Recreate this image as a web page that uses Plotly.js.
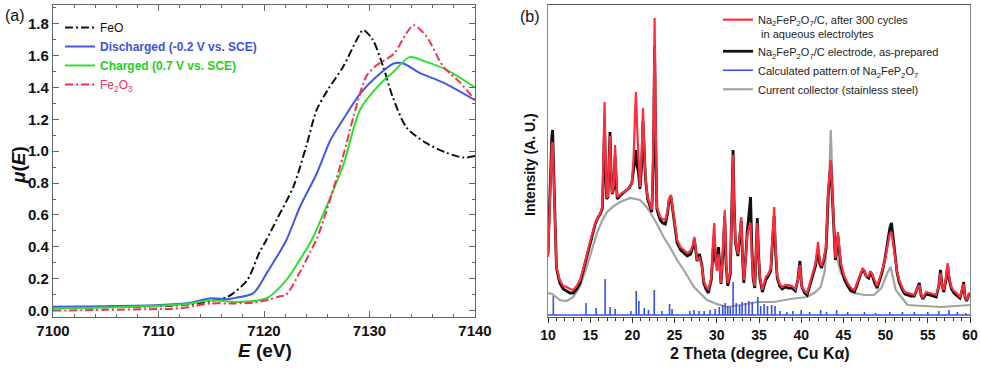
<!DOCTYPE html>
<html><head><meta charset="utf-8">
<script src="https://cdn.plot.ly/plotly-3.0.1.min.js"></script>
<style>html,body{margin:0;padding:0;background:#fff}#chart{width:981px;height:368px}</style>
</head><body><div id="chart"></div>
<script>
// ---------- Panel (a): Fe K-edge XANES ----------
const feoE = [7100,7104,7108,7111,7113,7115,7116.5,7117.1,7118.4,7119.6,7120.2,7121.2,7122.8,7124.0,7125.0,7126.0,7127.5,7128.8,7129.4,7130.3,7131.3,7132.2,7133.5,7135.4,7137.3,7138.9,7140];
const feoMu = [0.02,0.02,0.025,0.03,0.04,0.06,0.085,0.11,0.19,0.37,0.44,0.57,0.78,1.03,1.26,1.38,1.53,1.70,1.76,1.70,1.53,1.34,1.15,1.05,0.99,0.96,0.97];

const disE = [7100,7105,7110,7113,7115,7116.5,7117.3,7119.0,7120.3,7122.1,7123.4,7125.0,7126.3,7127.5,7129.1,7130.7,7132.3,7133.2,7134.8,7137.0,7140];
const disMu = [0.025,0.028,0.035,0.05,0.078,0.072,0.08,0.11,0.24,0.44,0.65,0.86,1.07,1.20,1.36,1.47,1.55,1.55,1.49,1.43,1.32];

const chgE = [7100,7105,7110,7113,7115,7117,7119,7120.3,7122.1,7123.4,7124.5,7125.9,7127.5,7129.1,7130.7,7132.3,7133.8,7135.4,7137.3,7140];
const chgMu = [0.015,0.02,0.03,0.045,0.065,0.055,0.06,0.08,0.19,0.32,0.44,0.65,0.91,1.26,1.40,1.50,1.59,1.56,1.51,1.40];

const fe2o3E = [7100,7105,7110,7112,7113.5,7115,7117,7119,7120.5,7121.5,7122.1,7123.4,7124.4,7125.0,7125.9,7127.5,7128.5,7129.7,7130.7,7132.3,7133.5,7134.2,7135.4,7137.0,7138.6,7140];
const fe2o3Mu = [0.0,0.005,0.01,0.015,0.03,0.045,0.045,0.05,0.07,0.09,0.10,0.24,0.37,0.45,0.62,0.97,1.22,1.47,1.54,1.61,1.74,1.79,1.72,1.53,1.43,1.32];

const xanesNames = [
  'FeO',
  '<span style="color:#3f52e3"><b>Discharged (-0.2 V vs. SCE)</b></span>',
  '<span style="color:#22d022"><b>Charged (0.7 V vs. SCE)</b></span>',
  '<span style="color:#f5305a">Fe<sub>2</sub>O<sub>3</sub></span>'
];

// ---------- Panel (b): XRD ----------
const twoTheta = [10.0,10.25,10.45,10.55,10.7,10.85,11.0,11.4,11.8,12.2,12.6,13.0,13.4,13.8,14.2,14.6,15.0,15.3,15.6,15.9,16.2,16.45,16.6,16.7,16.8,16.95,17.1,17.25,17.35,17.45,17.6,17.8,17.95,18.05,18.2,18.5,18.75,19.05,19.35,19.6,19.94,20.15,20.3,20.42,20.55,20.7,20.9,21.1,21.25,21.4,21.55,21.8,22.05,22.3,22.5,22.63,22.75,22.9,23.1,23.3,23.6,23.9,24.15,24.35,24.57,24.75,24.9,25.1,25.3,25.7,26.1,26.5,26.9,27.2,27.34,27.5,27.66,27.95,28.25,28.45,28.7,29.0,29.36,29.55,29.7,29.85,30.0,30.2,30.35,30.5,30.75,30.94,31.1,31.3,31.6,31.8,31.93,32.05,32.2,32.5,32.7,32.9,33.05,33.2,33.45,33.6,33.85,34.0,34.15,34.3,34.5,34.65,34.8,34.95,35.1,35.4,35.8,36.1,36.4,36.6,36.8,36.95,37.16,37.45,37.75,38.1,38.5,38.9,39.3,39.6,39.85,40.05,40.4,40.7,41.0,41.3,41.7,42.0,42.2,42.4,42.7,42.95,43.2,43.5,43.7,43.85,44.05,44.2,44.36,44.55,44.7,45.1,45.5,45.9,46.3,46.7,47.05,47.3,47.45,47.7,48.0,48.2,48.4,48.7,49.0,49.3,49.6,49.9,50.2,50.5,50.7,50.9,51.1,51.35,51.6,52.0,52.3,52.6,53.0,53.4,53.7,54.0,54.2,54.4,54.8,55.2,55.6,56.0,56.3,56.5,56.7,56.9,57.15,57.35,57.55,57.8,58.1,58.4,58.8,59.05,59.25,59.4,59.6,59.9,60.0];

const cycled = [59,125,170,174,120,90,49,36,30,29,27,26,30,36,48,63,75,84,93,98,103,110,190,214,170,118,120,160,180,150,123,130,171,150,119,121,123,124,126,128,133,160,200,224,190,156,129,160,208,170,139,119,112,106,180,298,200,109,104,99,97,96,105,118,121,110,103,88,76,69,66,63,65,72,79,68,56,58,49,35,30,26,39,75,93,60,45,62,45,33,70,106,55,33,45,110,161,110,76,62,80,99,60,36,60,80,90,93,60,40,30,60,93,60,40,26,39,42,48,80,109,70,40,32,29,31,31,30,27,35,51,30,25,23,32,43,53,74,55,50,58,70,125,156,120,95,58,70,84,65,53,40,33,28,26,35,43,48,46,40,40,45,42,35,30,38,46,55,69,82,84,72,58,45,36,28,24,23,22,21,27,31,22,18,24,23,22,21,30,43,30,26,38,53,38,29,25,23,19,26,32,20,16,23,22];

const asPrepared = [62,130,180,186,125,92,48,33,27,25,23,23,27,33,46,60,73,82,92,98,102,108,170,190,150,117,119,165,184,150,122,128,160,140,117,120,122,124,126,128,133,150,160,166,150,145,127,150,195,165,137,117,111,104,160,270,180,107,101,96,93,92,102,116,119,108,101,86,73,66,63,60,62,70,77,66,55,62,50,33,27,23,37,65,80,55,50,69,48,32,65,100,52,30,42,115,166,115,74,60,78,95,58,33,62,84,105,119,70,38,28,65,98,62,38,24,36,40,45,75,100,66,38,30,27,29,28,28,25,36,55,30,23,21,30,40,50,66,52,48,56,68,122,152,118,92,56,68,80,62,50,37,30,25,24,33,42,46,45,40,38,44,41,33,28,36,44,56,72,88,93,78,60,44,34,26,22,21,20,20,26,33,21,17,22,21,20,19,30,46,30,24,36,50,36,27,23,21,18,25,34,19,15,22,21];

const steelTheta = [10.0,10.5,11.4,12.2,13.0,13.8,14.6,15.2,15.8,16.4,17.0,17.8,18.55,19.74,20.9,21.5,22.1,22.9,23.7,24.5,25.3,26.3,27.3,28.0,28.85,30.0,31.2,32.8,34.8,36.76,38.7,40.7,41.7,42.3,42.8,43.17,43.5,43.9,44.3,44.7,45.5,46.3,47.5,48.6,49.5,50.2,50.6,51.2,52.6,54.5,56.6,58.3,60.0];
const steelI = [23,22,16,15,19,30,49,66,83,95,104,110,114,118,116,111,104,92,79,68,56,43,29,23,16,12,9,11,14,14,17,19,24,29,45,96,186,89,56,43,32,23,21,21,28,43,49,26,11,10,9,10,11];

const stickPos = [10.63,14.5,15.7,16.77,17.36,17.96,19.82,20.45,20.77,21.4,21.9,22.59,23.5,24.4,24.7,26.8,27.3,27.9,28.5,29.2,29.8,30.3,30.7,31.0,31.3,31.6,31.93,32.3,32.7,33.0,33.4,33.8,34.2,34.86,35.2,35.6,36.0,36.5,36.9,37.5,38.3,39.0,40.0,41.0,42.3,43.0,44.2,45.5,47.5,48.8,50.5,52.0,53.4,55.0,56.3,57.5,58.5,59.5];
const stickI = [19,12,7,36,8,6,4,24,14,7,5,25,4,11,6,4,5,4,4,5,6,8,10,12,9,8,33,12,10,13,12,14,13,18,9,11,9,10,9,4,3,4,5,3,5,3,5,3,3,2,3,3,3,3,4,5,3,2];
const stickBase = 1;
const thetaRange = [10, 60];

const xrdNames = [
  'Na<sub>2</sub>FeP<sub>2</sub>O<sub>7</sub>/C, after 300 cycles<br> in aqueous electrolytes',
  'Na<sub>2</sub>FeP<sub>2</sub>O<sub>7</sub>/C electrode, as-prepared',
  'Calculated pattern of Na<sub>2</sub>FeP<sub>2</sub>O<sub>7</sub>',
  'Current collector (stainless steel)'
];

// ---------- build ----------
const FONT = 'Liberation Sans, Arial, sans-serif';
const W = 981, H = 368, ML = 53, MR = 11, MT = 5, MB = 51;
const pw = W - ML - MR, ph = H - MT - MB;
const px = v => (v - ML) / pw;
const py = v => (H - MB - v) / ph;

const dashdot = '8px,3px,2px,3px';
const sticksX = [thetaRange[0], thetaRange[1], null];
const sticksY = [stickBase, stickBase, null];
stickPos.forEach((p, i) => { sticksX.push(p, p, null); sticksY.push(stickBase, stickBase + stickI[i], null); });

const traces = [
  {x: feoE, y: feoMu, name: xanesNames[0], mode: 'lines', line: {color: '#111', width: 2, dash: dashdot, shape: 'spline', smoothing: 0.8}, xaxis: 'x', yaxis: 'y', legend: 'legend'},
  {x: disE, y: disMu, name: xanesNames[1], mode: 'lines', line: {color: '#4457e6', width: 2, shape: 'spline', smoothing: 0.8}, xaxis: 'x', yaxis: 'y', legend: 'legend'},
  {x: chgE, y: chgMu, name: xanesNames[2], mode: 'lines', line: {color: '#2ee02e', width: 2, shape: 'spline', smoothing: 0.8}, xaxis: 'x', yaxis: 'y', legend: 'legend'},
  {x: fe2o3E, y: fe2o3Mu, name: xanesNames[3], mode: 'lines', line: {color: '#f5304e', width: 2, dash: dashdot, shape: 'spline', smoothing: 0.8}, xaxis: 'x', yaxis: 'y', legend: 'legend'},

  {x: steelTheta, y: steelI, name: xrdNames[3], mode: 'lines', line: {color: '#a3a3a3', width: 2.2}, xaxis: 'x2', yaxis: 'y2', legend: 'legend2'},
  {x: sticksX, y: sticksY, name: xrdNames[2], mode: 'lines', line: {color: '#3650f0', width: 1.6}, xaxis: 'x2', yaxis: 'y2', legend: 'legend2', connectgaps: false},
  {x: twoTheta, y: asPrepared, name: xrdNames[1], mode: 'lines', line: {color: '#111', width: 2.8}, xaxis: 'x2', yaxis: 'y2', legend: 'legend2'},
  {x: twoTheta, y: cycled, name: xrdNames[0], mode: 'lines', line: {color: '#ff2d3c', width: 2.2}, xaxis: 'x2', yaxis: 'y2', legend: 'legend2'}
];

const tickFontA = {family: FONT, size: 15, color: '#111', weight: 'bold'};
const tickFontB = {family: FONT, size: 14, color: '#111', weight: 'bold'};

const layout = {
  width: W, height: H,
  margin: {l: ML, r: MR, t: MT, b: MB},
  paper_bgcolor: '#fff', plot_bgcolor: '#fff',
  font: {family: FONT, color: '#111'},
  xaxis: {
    domain: [0, px(475)], anchor: 'y', range: [7100, 7140], tick0: 7100, dtick: 10,
    ticks: 'inside', ticklen: 6, tickcolor: '#666', mirror: 'ticks', showline: true, linecolor: '#666', linewidth: 1.2,
    minor: {dtick: 2, ticks: 'inside', ticklen: 3, tickcolor: '#666'},
    showgrid: false, zeroline: false, tickfont: tickFontA
  },
  yaxis: {
    domain: [0, 1], anchor: 'x', range: [-0.04, 1.917], tick0: 0, dtick: 0.2, tickformat: '.1f',
    ticks: 'inside', ticklen: 6, tickcolor: '#666', mirror: 'ticks', showline: true, linecolor: '#666', linewidth: 1.2,
    minor: {dtick: 0.1, ticks: 'inside', ticklen: 3, tickcolor: '#666'},
    showgrid: false, zeroline: false, tickfont: tickFontA
  },
  xaxis2: {
    domain: [px(548), 1], anchor: 'y2', range: thetaRange, tick0: 10, dtick: 5,
    ticks: 'outside', ticklen: 5, tickcolor: '#333', mirror: true, showline: true, linecolor: '#555', linewidth: 1.2,
    minor: {dtick: 1, ticks: 'outside', ticklen: 3, tickcolor: '#333'},
    showgrid: false, zeroline: false, tickfont: tickFontB
  },
  yaxis2: {
    domain: [0, 1], anchor: 'x2', range: [-1, 311], showticklabels: false, ticks: '',
    mirror: true, showline: true, linecolor: '#888', linewidth: 1.2, showgrid: false, zeroline: false
  },
  legend: {
    x: px(60), y: py(13), xanchor: 'left', yanchor: 'top', bgcolor: 'rgba(0,0,0,0)',
    font: {family: FONT, size: 12, color: '#111'}, tracegroupgap: 0, itemwidth: 30
  },
  legend2: {
    x: px(718), y: py(6), xanchor: 'left', yanchor: 'top', bgcolor: 'rgba(0,0,0,0)', valign: 'top',
    font: {family: FONT, size: 11, color: '#222'}, traceorder: 'reversed', itemwidth: 30
  },
  annotations: [
    {text: '(a)', x: px(15), y: py(16), xref: 'paper', yref: 'paper', showarrow: false, xanchor: 'center', yanchor: 'middle', font: {family: FONT, size: 16, color: '#111'}},
    {text: '(b)', x: px(530), y: py(17), xref: 'paper', yref: 'paper', showarrow: false, xanchor: 'center', yanchor: 'middle', font: {family: FONT, size: 16, color: '#111'}},
    {text: '<i>μ</i>(<i>E</i>)', x: px(18), y: py(165), xref: 'paper', yref: 'paper', showarrow: false, textangle: -90, xanchor: 'center', yanchor: 'middle', font: {family: FONT, size: 19, color: '#111', weight: 'bold'}},
    {text: '<i>E</i> (eV)', x: px(265), y: py(350), xref: 'paper', yref: 'paper', showarrow: false, xanchor: 'center', yanchor: 'middle', font: {family: FONT, size: 19, color: '#111', weight: 'bold'}},
    {text: 'Intensity (A. U.)', x: px(530), y: py(165), xref: 'paper', yref: 'paper', showarrow: false, textangle: -90, xanchor: 'center', yanchor: 'middle', font: {family: FONT, size: 14, color: '#111', weight: 'bold'}},
    {text: '2 Theta (degree, Cu Kα)', x: px(760), y: py(353), xref: 'paper', yref: 'paper', showarrow: false, xanchor: 'center', yanchor: 'middle', font: {family: FONT, size: 16, color: '#111', weight: 'bold'}}
  ]
};

Plotly.newPlot('chart', traces, layout, {displayModeBar: false, staticPlot: true});
</script></body></html>
